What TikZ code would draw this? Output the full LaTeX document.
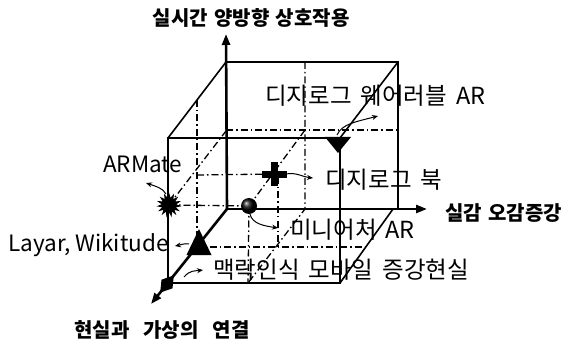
\documentclass[tikz,border=0pt]{standalone}
\usepackage{fontspec}
\setmainfont{Noto Sans CJK KR}
\usetikzlibrary{arrows.meta,shapes.geometric}
\newcommand{\mylblfont}{\fontsize{23.5}{23.5}\selectfont\spaceskip=0.38em\relax}
\newcommand{\mylatfont}{\fontsize{22.5}{22.5}\selectfont}
\newcommand{\myttlfont}{\fontsize{20}{20}\selectfont\bfseries\spaceskip=0.32em\relax}
\newcommand{\myttlwidefont}{\fontsize{20}{20}\selectfont\bfseries\spaceskip=0.7em\relax}
\begin{document}
\begin{tikzpicture}[x=1pt,y=-1pt,
  axis/.style={line width=2.6pt,-{Triangle[length=11pt,width=8pt]}},
  edge/.style={line width=1.6pt},
  guide/.style={line width=1.3pt,dash pattern=on 7pt off 3pt on 1.5pt off 3pt},
  pointer/.style={line width=1pt,-{Stealth[length=6pt,width=5pt]}},
  lbl/.style={font=\mylblfont,inner sep=0,anchor=west},
  lbllat/.style={font=\mylatfont,inner sep=0,anchor=west},
  ttl/.style={font=\myttlfont,inner sep=0},
]
\useasboundingbox (0,0) rectangle (572,347);
% cube corners
\coordinate (O) at (227,209);
\coordinate (BTL) at (226,62);
\coordinate (BTR) at (398,62);
\coordinate (BBR) at (398,208);
\coordinate (FTL) at (168,138);
\coordinate (FTR) at (340,138);
\coordinate (FBL) at (168,283);
\coordinate (FBR) at (340,283);
\coordinate (BBD) at (393,209);
\coordinate (Ytip) at (226,34);
\coordinate (Xtip) at (427,209);
\coordinate (Ztip) at (151,304);
% guide points
\coordinate (M1) at (197,100);
\coordinate (M2) at (197,247);
\coordinate (M3) at (368,247);
\coordinate (M4) at (197,175);
\coordinate (M5) at (278,247);
\coordinate (B1) at (226,130);
\coordinate (B2) at (398,130);
\coordinate (S1) at (226,131);
\coordinate (P1) at (305,130);
\coordinate (V1) at (305,62);
\coordinate (V2) at (305,209);
\coordinate (V3) at (248,283);
% marker anchors
\coordinate (cross) at (274,174);
\coordinate (ball) at (249,206);
\coordinate (star) at (169,205);
\coordinate (tdn) at (338,143);
\coordinate (tup) at (199,245);
\coordinate (dia) at (167,284);

% guides
\draw[guide] (M1) -- (M2) -- (M3);
\draw[guide] (M4) -- (cross);
\draw[guide] (278,177) -- (M5);
\draw[guide] (B1) -- (B2);
\draw[guide] (star) -- (S1);
\draw[guide] (ball) -- (P1);
\draw[guide] (V1) -- (V2) -- (V3);
\draw[guide] (ball) -- (V3);
\draw[guide] (star) -- (ball);

% cube edges
\draw[edge] (BTL) -- (BTR) -- (BBR);
\draw[edge] (FTL) -- (FTR) -- (FBR) -- (FBL) -- cycle;
\draw[edge] (FTL) -- (BTL);
\draw[edge] (FTR) -- (BTR);
\draw[edge] (FBR) -- (BBD);

% axes
\draw[axis] (O) -- (Ytip);
\draw[axis] (O) -- (Xtip);
\draw[axis] (O) -- (Ztip);

% markers
\node[circle,inner sep=0,minimum size=16pt,shade,ball color=black] (mball) at (ball) {};
\node[star,star points=15,star point ratio=1.7,fill=black,inner sep=0,minimum size=25pt] (mstar) at (star) {};
\fill (262,171) rectangle (287,178);
\fill (270.5,162) rectangle (278,186);
\fill (325,137) -- (351,137) -- (338,153) -- cycle;
\fill (199,229) -- (211.5,255) -- (186.5,255) -- cycle;
\fill (160.2,292.6) -- (172.5,288.3) -- (173.8,275.4) -- (161.5,279.7) -- cycle;

% pointer ends
\coordinate (eWear) at (378,116);
\coordinate (eBook) at (313,178);
\coordinate (eMini) at (278,228);
\coordinate (eArm) at (146,183);
\coordinate (eLay) at (175,246);
\coordinate (eCtx) at (203,270);
\draw[pointer] (337,135) .. controls (342,124) and (355,122) .. (eWear);
\draw[pointer] (286,174) .. controls (296,172) and (303,177) .. (eBook);
\draw[pointer] (250,214) .. controls (252,224) and (265,226) .. (eMini);
\draw[pointer] (166,194) .. controls (163,188) and (155,186) .. (eArm);
\draw[pointer] (189,244) .. controls (185,243) and (180,245) .. (eLay);
\draw[pointer] (184,277) .. controls (190,270) and (195,271) .. (eCtx);

% labels
\node[lbl] (tWear) at (265,96) {디지로그 웨어러블 AR};
\node[lbl] (tBook) at (325,180) {디지로그 북};
\node[lbl] (tMini) at (290,230) {미니어처 AR};
\node[lbllat] (tArm) at (103,164) {ARMate};
\node[lbllat] (tLay) at (8,245) {Layar, Wikitude};
\node[lbl] (tCtx) at (213,270) {맥락인식 모바일 증강현실};

% titles
\node[ttl] (tY) at (251,18) {실시간 양방향 상호작용};
\node[ttl,anchor=west] (tX) at (445,213) {실감 오감증강};
\node[ttl,font=\myttlwidefont] (tZ) at (162,330) {현실과 가상의 연결};
\end{tikzpicture}
\end{document}
